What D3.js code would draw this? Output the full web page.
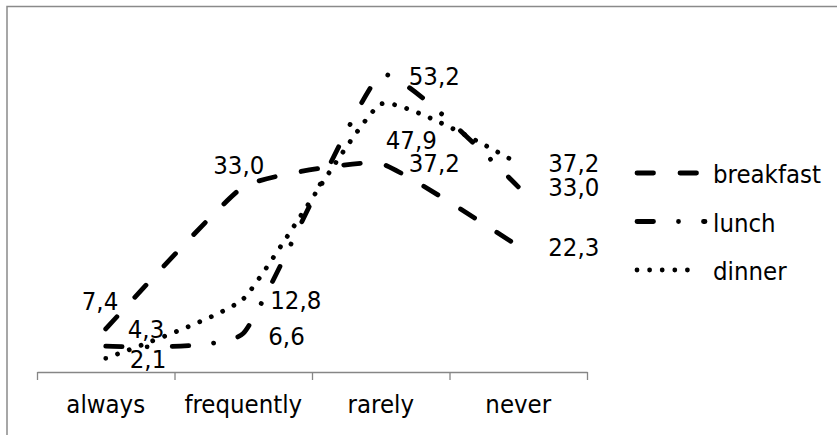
<!DOCTYPE html>
<html><head><meta charset="utf-8">
<script src="https://cdn.jsdelivr.net/npm/d3@7"></script>
<style>
body{margin:0;background:#fff}
svg{display:block}
text{font-family:"DejaVu Sans Condensed","DejaVu Sans",sans-serif;font-stretch:condensed;font-size:25.5px;fill:#000}
</style>
</head><body>
<svg id="chart" width="837" height="435"></svg>
<script>
// ---- data ----
const categories = ["always", "frequently", "rarely", "never"];
const seriesNames = ["breakfast", "lunch", "dinner"];
const breakfast = [7.4, 33.0, 37.2, 22.3];
const lunch = [4.3, 6.6, 53.2, 33.0];
const dinner = [2.1, 12.8, 47.9, 37.2];
const yDomain = [0, 60];

// ---- styles ----
const dashStyles = { breakfast: "16.5,26.5", lunch: "16.5,25,0.001,25", dinner: "0.001,12.6" };
const legendEnds = { breakfast: 699, lunch: 705, dinner: 700 };
// data label offsets (left edge, vertical middle) relative to the point
const labelOffsets = {
  breakfast: [[-24, -28], [-30, -22], [28, -1], [30, 0]],
  lunch: [[22, -17], [25, 2], [28, 1], [30, 0]],
  dinner: [[24, 0], [27, 1], [5, 36], [30, -1]]
};
const seriesData = { breakfast, lunch, dinner };

const svg = d3.select("#chart");
const axisColor = "#868686";

// outer chart border
svg.append("rect").attr("x", 7).attr("y", 6.5).attr("width", 900).attr("height", 500)
  .attr("fill", "none").attr("stroke", "#8a8a8a").attr("stroke-width", 1.5);

const x = d3.scaleBand().domain(categories).range([37, 587]).padding(0);
const y = d3.scaleLinear().domain(yDomain).range([370, 37]);
const axisY = 372;
const cx = c => x(c) + x.bandwidth() / 2;

// category axis: boundary ticks
const edge = d3.scaleLinear().domain([0, categories.length]).range(x.range());
const gTicks = svg.append("g").attr("transform", `translate(0,${axisY})`)
  .call(d3.axisBottom(edge).tickValues(d3.range(categories.length + 1))
    .tickSize(8).tickSizeOuter(0).tickFormat(""));
gTicks.selectAll("line, path").attr("stroke", axisColor).attr("stroke-width", 1.3);

const gLabels = svg.append("g").attr("transform", `translate(0,${axisY})`)
  .call(d3.axisBottom(x).tickSize(0).tickSizeOuter(0));
gLabels.select(".domain").remove();
gLabels.selectAll("text").attr("y", 41).attr("dy", 0);

// lines (mildly smoothed, like the spreadsheet's smoothed lines)
const line = d3.line()
  .x((d, i) => cx(categories[i]))
  .y(d => y(d))
  .curve(d3.curveCardinal.tension(0.6));

const fmt = v => d3.format(".1f")(v).replace(".", ",");

seriesNames.forEach(name => {
  svg.append("path").datum(seriesData[name])
    .attr("d", line)
    .attr("fill", "none").attr("stroke", "#000").attr("stroke-width", 4.8)
    .attr("stroke-linecap", "round").attr("stroke-linejoin", "round")
    .attr("stroke-dasharray", dashStyles[name]);
});

seriesNames.forEach(name => {
  svg.append("g").selectAll("text").data(seriesData[name]).join("text")
    .attr("x", (d, i) => cx(categories[i]) + labelOffsets[name][i][0])
    .attr("y", (d, i) => y(d) + labelOffsets[name][i][1] + 9.3)
    .text(d => fmt(d));
});

// legend
const legend = svg.append("g");
seriesNames.forEach((name, i) => {
  const ly = 173 + i * 48.5;
  legend.append("path").attr("d", `M637,${ly}H${legendEnds[name]}`)
    .attr("fill", "none").attr("stroke", "#000").attr("stroke-width", 4.8)
    .attr("stroke-linecap", "round").attr("stroke-dasharray", dashStyles[name]);
  legend.append("text").attr("x", 713).attr("y", ly + 10).text(name);
});
</script>
</body></html>
